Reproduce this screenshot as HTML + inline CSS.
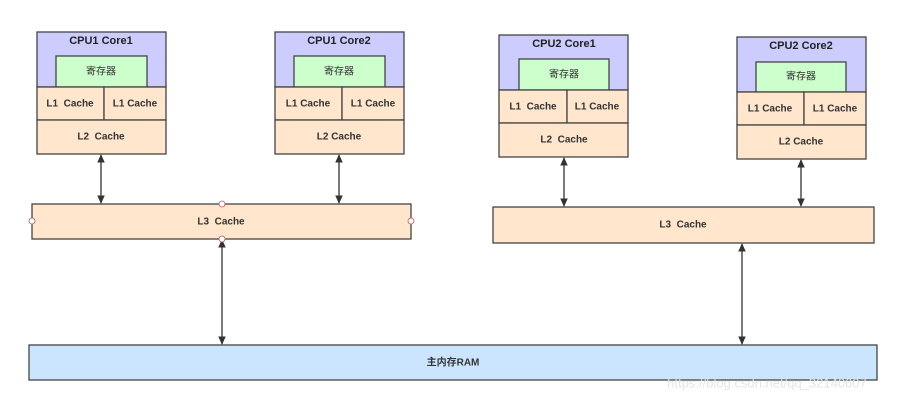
<!DOCTYPE html>
<html><head><meta charset="utf-8"><style>
html,body{margin:0;padding:0;background:#fff;}
svg{display:block;}
text{font-family:"Liberation Sans","Noto Sans CJK SC",sans-serif;font-size:10px;font-weight:bold;fill:#333;text-anchor:middle;dominant-baseline:central;white-space:pre;}
.t{font-size:11px;fill:#222;}
.b{stroke:#444;stroke-width:1.3;}
</style></head><body>
<svg width="901" height="402" viewBox="0 0 901 402" xmlns="http://www.w3.org/2000/svg">
<defs>
<marker id="a" viewBox="0 0 10 10" refX="9" refY="5" markerWidth="6.5" markerHeight="6.5" orient="auto-start-reverse"><path d="M0,0.5 L10,5 L0,9.5 z" fill="#333"/></marker>
</defs>
<g class="b">
<g>
<rect x="37" y="32" width="129" height="55" fill="#ccccff"/>
<rect x="56" y="56" width="91" height="31" fill="#ccffcc"/>
<rect x="37" y="87" width="67" height="33" fill="#ffe6cc"/>
<rect x="104" y="87" width="62" height="33" fill="#ffe6cc"/>
<rect x="37" y="120" width="129" height="34" fill="#ffe6cc"/>
</g>
<g>
<rect x="275" y="32" width="129" height="55" fill="#ccccff"/>
<rect x="294" y="56" width="91" height="31" fill="#ccffcc"/>
<rect x="275" y="87" width="67" height="33" fill="#ffe6cc"/>
<rect x="342" y="87" width="62" height="33" fill="#ffe6cc"/>
<rect x="275" y="120" width="129" height="34" fill="#ffe6cc"/>
</g>
<g>
<rect x="499" y="35" width="129" height="55" fill="#ccccff"/>
<rect x="519" y="59" width="90" height="31" fill="#ccffcc"/>
<rect x="499" y="90" width="68" height="33" fill="#ffe6cc"/>
<rect x="567" y="90" width="61" height="33" fill="#ffe6cc"/>
<rect x="499" y="123" width="129" height="34" fill="#ffe6cc"/>
</g>
<g>
<rect x="737" y="37" width="129" height="55" fill="#ccccff"/>
<rect x="756" y="62" width="90" height="30" fill="#ccffcc"/>
<rect x="737" y="92" width="67" height="33" fill="#ffe6cc"/>
<rect x="804" y="92" width="62" height="33" fill="#ffe6cc"/>
<rect x="737" y="125" width="129" height="34" fill="#ffe6cc"/>
</g>
<rect x="32" y="204" width="379" height="35" fill="#ffe6cc"/>
<rect x="493" y="207" width="381" height="36" fill="#ffe6cc"/>
<rect x="29" y="345" width="848" height="35" fill="#cce5ff"/>
</g>
<g stroke="#333" stroke-width="1.3" marker-start="url(#a)" marker-end="url(#a)">
<line x1="101" y1="155" x2="101" y2="203"/>
<line x1="339" y1="155" x2="339" y2="203"/>
<line x1="564" y1="158" x2="564" y2="206"/>
<line x1="801" y1="160" x2="801" y2="206"/>
<line x1="222" y1="240" x2="222" y2="344"/>
<line x1="742" y1="244" x2="742" y2="344"/>
</g>
<g fill="#fff" stroke="#b55" stroke-width="0.8">
<circle cx="222" cy="204" r="3"/><circle cx="222" cy="239" r="3"/>
<circle cx="32" cy="221" r="3"/><circle cx="411" cy="221" r="3"/>
</g>
<text class="t" x="101" y="41">CPU1 Core1</text>
<text class="t" x="339" y="41">CPU1 Core2</text>
<text class="t" x="564" y="44">CPU2 Core1</text>
<text class="t" x="801" y="46">CPU2 Core2</text>
<text x="101" y="72" style="font-weight:normal">寄存器</text><text x="339" y="72" style="font-weight:normal">寄存器</text>
<text x="564" y="75" style="font-weight:normal">寄存器</text><text x="801" y="77" style="font-weight:normal">寄存器</text>
<text x="70" y="104">L1  Cache</text><text x="135" y="104">L1 Cache</text>
<text x="308" y="104">L1 Cache</text><text x="373" y="104">L1 Cache</text>
<text x="533" y="107">L1  Cache</text><text x="597" y="107">L1 Cache</text>
<text x="770" y="109">L1 Cache</text><text x="835" y="109">L1 Cache</text>
<text x="101" y="137">L2  Cache</text><text x="339" y="137">L2 Cache</text>
<text x="564" y="140">L2  Cache</text><text x="801" y="142">L2 Cache</text>
<text x="221" y="222">L3  Cache</text>
<text x="683" y="225">L3  Cache</text>
<text x="453" y="363">主内存RAM</text>
<text x="767" y="383" style="font-size:13px;font-weight:normal;fill:#e4e4e4">https://blog.csdn.net/qq_32140607</text>
</svg>
</body></html>
